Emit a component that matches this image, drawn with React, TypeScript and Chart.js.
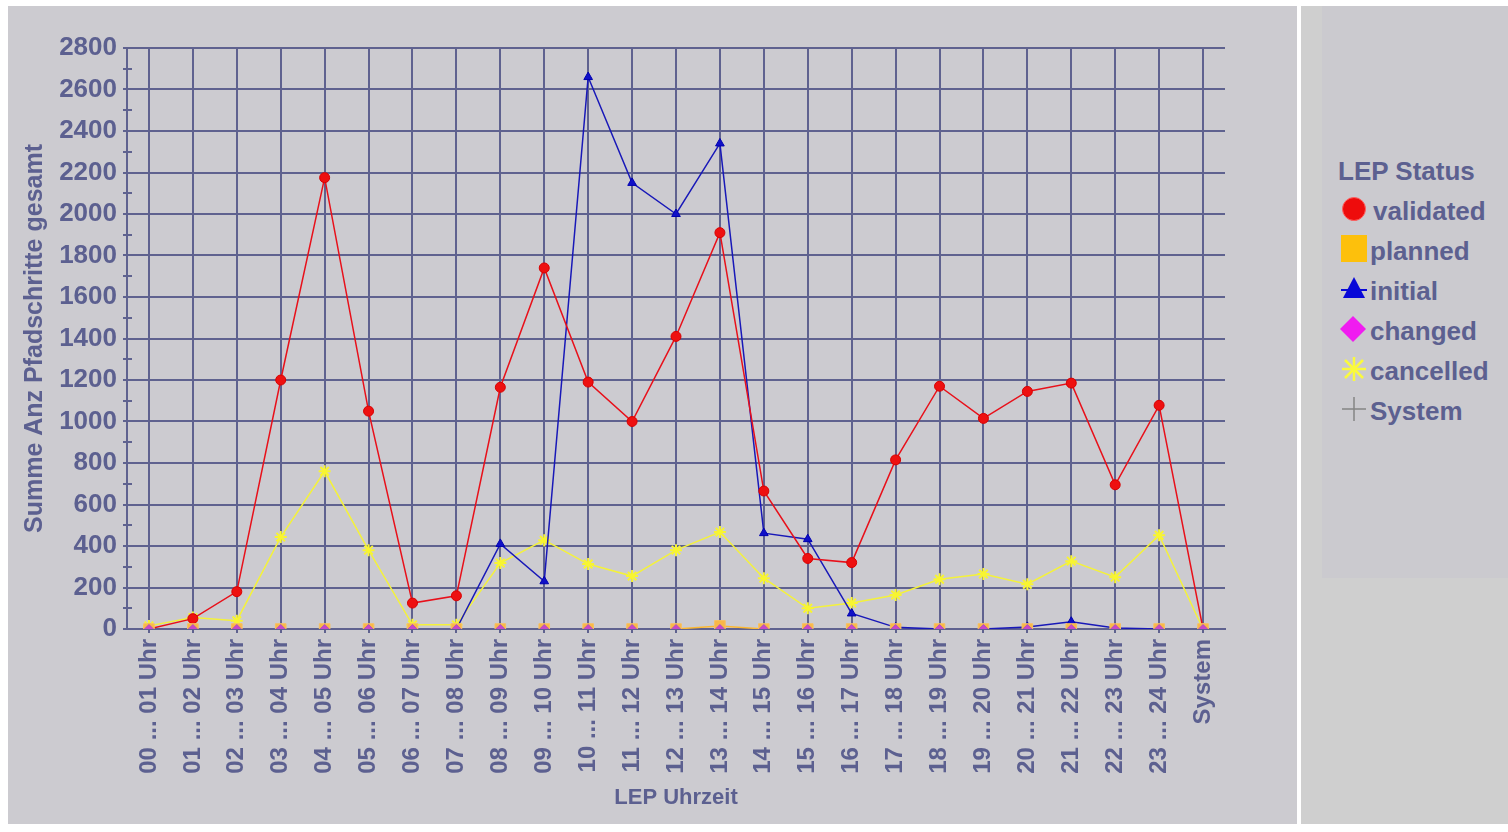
import React, { useEffect, useRef } from "react";
import { Chart, registerables } from "chart.js";

Chart.register(...registerables);

const categories = [
  "00 ... 01 Uhr", "01 ... 02 Uhr", "02 ... 03 Uhr", "03 ... 04 Uhr", "04 ... 05 Uhr",
  "05 ... 06 Uhr", "06 ... 07 Uhr", "07 ... 08 Uhr", "08 ... 09 Uhr", "09 ... 10 Uhr",
  "10 ... 11 Uhr", "11 ... 12 Uhr", "12 ... 13 Uhr", "13 ... 14 Uhr", "14 ... 15 Uhr",
  "15 ... 16 Uhr", "16 ... 17 Uhr", "17 ... 18 Uhr", "18 ... 19 Uhr", "19 ... 20 Uhr",
  "20 ... 21 Uhr", "21 ... 22 Uhr", "22 ... 23 Uhr", "23 ... 24 Uhr", "System",
];

const validated = [0, 50, 180, 1200, 2175, 1050, 125, 160, 1165, 1740, 1190, 1000, 1410, 1910, 665, 340, 320, 815, 1170, 1015, 1145, 1185, 695, 1078, 0];
const planned = [0, 0, 0, 0, 0, 0, 0, 0, 0, 0, 0, 0, 0, 15, 0, 0, 0, 0, 0, 0, 0, 0, 0, 0, 0];
const initial = [0, 0, 0, 0, 0, 0, 0, 0, 410, 230, 2660, 2150, 2000, 2340, 462, 433, 75, 8, 0, 0, 10, 35, 5, 0, 0];
const changed = [0, 0, 0, 0, 0, 0, 0, 0, 0, 0, 0, 0, 0, 0, 0, 0, 0, 0, 0, 0, 0, 0, 0, 0, 0];
const cancelled = [15, 55, 40, 443, 760, 380, 20, 20, 318, 428, 313, 255, 380, 467, 245, 100, 125, 164, 240, 265, 216, 327, 250, 452, 0];
const systemValues = [0, 0, 0, 0, 0, 0, 0, 0, 0, 0, 0, 0, 0, 0, 0, 0, 0, 0, 0, 0, 0, 0, 0, 0, 0];

const yMin = 0;
const yMax = 2800;
const yStep = 100;

const xTitle = "LEP Uhrzeit";
const yTitle = "Summe Anz Pfadschritte gesamt";
const legendTitle = "LEP Status";
const seriesNames = ["validated", "planned", "initial", "changed", "cancelled", "System"];

const TEXT = "#5c6090";
const GRID = "#5f628f";
const FONT = '"Liberation Sans", Arial, sans-serif';

const hideZeroSegments = {
  borderColor: (ctx: any) =>
    ctx.p0.parsed.y === 0 && ctx.p1.parsed.y === 0 ? "rgba(0,0,0,0)" : undefined,
};

const minorTicks = {
  id: "minorTicks",
  afterDraw(chart: any) {
    const y = chart.scales.y;
    const ctx = chart.ctx;
    const left = chart.chartArea.left;
    ctx.save();
    ctx.strokeStyle = GRID;
    ctx.lineWidth = 2;
    y.ticks.forEach((t: any) => {
      if (t.value % 200 !== 0) {
        const py = Math.round(y.getPixelForValue(t.value));
        ctx.beginPath();
        ctx.moveTo(left, py);
        ctx.lineTo(left + 5, py);
        ctx.stroke();
      }
    });
    ctx.restore();
  },
};

function ChartPanel() {
  const ref = useRef<HTMLCanvasElement | null>(null);
  useEffect(() => {
    if (!ref.current) return;
    const chart = new Chart(ref.current, {
      type: "line",
      data: {
        labels: categories,
        datasets: [
          {
            label: seriesNames[0], data: validated, borderColor: "#e8101a", backgroundColor: "#ee1010",
            borderWidth: 1.5, pointStyle: "circle", pointRadius: 5, pointBorderWidth: 1,
            pointBorderColor: "#d80000", order: 0, segment: hideZeroSegments,
          },
          {
            label: seriesNames[2], data: initial, borderColor: "#1818b8", backgroundColor: "#1010c8",
            borderWidth: 1.5, pointStyle: "triangle", pointRadius: 5, pointBorderWidth: 1,
            pointBorderColor: "#0000b0", order: 1, segment: hideZeroSegments,
          },
          {
            label: seriesNames[4], data: cancelled, borderColor: "#f4f23a", backgroundColor: "#fbf83a",
            borderWidth: 1.5, pointStyle: "star", pointRadius: 6, pointBorderWidth: 2,
            pointBorderColor: "#f8f530", order: 2, segment: hideZeroSegments,
          },
          {
            label: seriesNames[3], data: changed, borderColor: "#cc44cc", backgroundColor: "#c848c8",
            borderWidth: 1.5, pointStyle: "rectRot", pointRadius: 4.5, pointBorderWidth: 1,
            pointBorderColor: "#b050c0", order: -2, segment: hideZeroSegments,
          },
          {
            label: seriesNames[1], data: planned, borderColor: "#fdb830", backgroundColor: "#f9b848",
            borderWidth: 1.5, pointStyle: "rect", pointRadius: 7.5, pointBorderWidth: 1,
            pointBorderColor: "#f8c060", order: -1, segment: hideZeroSegments,
          },
          {
            label: seriesNames[5], data: systemValues, borderColor: "#808080", backgroundColor: "#808080",
            borderWidth: 1, pointStyle: "cross", pointRadius: 4, pointBorderWidth: 1,
            pointBorderColor: "#707070", order: 5, segment: hideZeroSegments,
          },
        ],
      },
      options: {
        animation: false,
        responsive: false,
        maintainAspectRatio: false,
        layout: { padding: { top: 42, right: 72, left: 0, bottom: 0 } },
        plugins: { legend: { display: false }, tooltip: { enabled: false } },
        scales: {
          x: {
            offset: true,
            grid: { offset: false, color: GRID, lineWidth: 2, tickLength: 4, tickColor: GRID },
            border: { color: GRID, width: 2 },
            ticks: {
              color: TEXT, autoSkip: false, maxRotation: 90, minRotation: 90, padding: 6,
              font: { family: FONT, size: 24, weight: "bold" },
            },
            title: {
              display: true, text: xTitle, color: TEXT,
              font: { family: FONT, size: 22, weight: "bold" },
              padding: { top: 0, bottom: 13 },
            },
            afterFit: (s: any) => { s.height = 195; },
          },
          y: {
            min: yMin, max: yMax,
            ticks: {
              stepSize: yStep, color: TEXT, padding: 6, autoSkip: false,
              font: { family: FONT, size: 26, weight: "bold" },
              callback: (v: any) => (Number(v) % 200 === 0 ? String(v) : ""),
            },
            grid: {
              color: (c: any) => (c.tick && c.tick.value % 200 === 0 ? GRID : "rgba(0,0,0,0)"),
              tickColor: GRID, tickLength: 4, lineWidth: 2,
            },
            border: { color: GRID, width: 2 },
            title: {
              display: true, text: yTitle, color: TEXT,
              font: { family: FONT, size: 25, weight: "bold" },
              padding: { top: 12, bottom: 0 },
            },
            afterFit: (s: any) => { s.width = 119; },
          },
        },
      },
      plugins: [minorTicks],
    } as any);
    return () => chart.destroy();
  }, []);
  return <canvas ref={ref} width={1289} height={818} style={{ display: "block", width: 1289, height: 818 }} />;
}

const rowYs = [211, 251, 291, 331, 371, 411];

function LegendIcon({ kind }: { kind: number }) {
  const s = 30;
  let shape: React.ReactNode = null;
  if (kind === 0) shape = <circle cx={15} cy={15} r={11.5} fill="#ee0c0c" stroke="#ff6060" strokeWidth={1} />;
  if (kind === 1) shape = <rect x={2} y={1} width={26} height={27} fill="#fdc00c" />;
  if (kind === 2)
    shape = (
      <g>
        <polygon points="15,3 26,24 4,24" fill="#0808d8" />
        <line x1={2} y1={16} x2={28} y2={16} stroke="#0808d8" strokeWidth={2} />
      </g>
    );
  if (kind === 3) shape = <polygon points="14,2 27,15 14,28 1,15" fill="#f01cf0" />;
  if (kind === 4)
    shape = (
      <g stroke="#fafa3c" strokeWidth={2.5}>
        <line x1={15} y1={3} x2={15} y2={27} />
        <line x1={3} y1={15} x2={27} y2={15} />
        <line x1={6} y1={6} x2={24} y2={24} />
        <line x1={24} y1={6} x2={6} y2={24} />
      </g>
    );
  if (kind === 5)
    shape = (
      <g stroke="#858585" strokeWidth={1.5}>
        <line x1={15} y1={3} x2={15} y2={27} />
        <line x1={3} y1={15} x2={27} y2={15} />
      </g>
    );
  return (
    <svg width={s} height={s} style={{ position: "absolute", left: 1339, top: rowYs[kind] - 17 }}>
      {shape}
    </svg>
  );
}

export default function App() {
  const textStyle: React.CSSProperties = {
    position: "absolute",
    fontFamily: FONT,
    fontWeight: "bold",
    fontSize: 26,
    color: TEXT,
    lineHeight: "30px",
    height: 30,
    whiteSpace: "nowrap",
  };
  return (
    <div style={{ position: "absolute", left: 0, top: 0, width: 1508, height: 832, background: "#ffffff", overflow: "hidden" }}>
      <div style={{ position: "absolute", left: 8, top: 6, width: 1289, height: 818, background: "#cccbd0" }}>
        <ChartPanel />
      </div>
      <div style={{ position: "absolute", left: 1301, top: 6, width: 207, height: 818, background: "#cfcfcf" }} />
      <div style={{ position: "absolute", left: 1322, top: 6, width: 186, height: 572, background: "#cbcacf" }} />
      <div style={{ ...textStyle, left: 1338, top: 156 }}>{legendTitle}</div>
      {seriesNames.map((n, i) => (
        <React.Fragment key={n}>
          <LegendIcon kind={i} />
          <div style={{ ...textStyle, left: i === 0 ? 1373 : 1370, top: rowYs[i] - 15 }}>{n}</div>
        </React.Fragment>
      ))}
    </div>
  );
}
